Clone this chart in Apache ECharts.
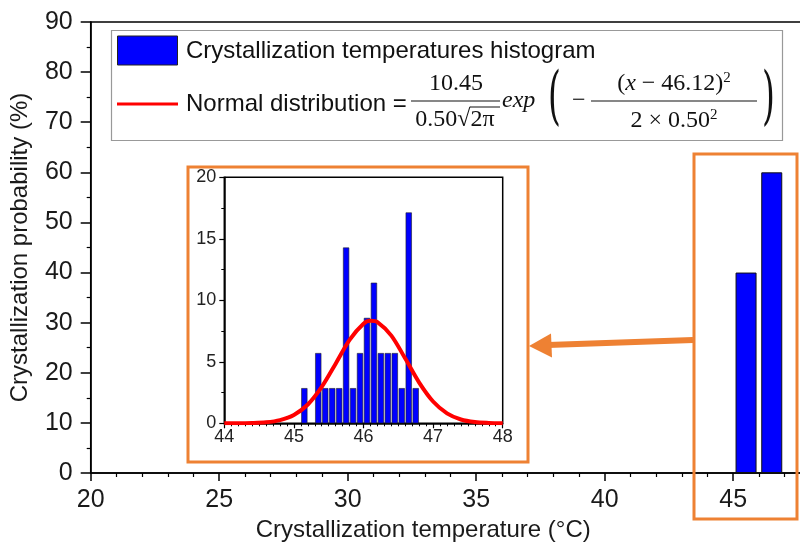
<!DOCTYPE html>
<html>
<head>
<meta charset="utf-8">
<script src="https://cdn.jsdelivr.net/npm/echarts@6/dist/echarts.min.js"></script>
<style>
html,body{margin:0;padding:0;background:#fff;}
#chart{width:800px;height:553px;}
</style>
</head>
<body>
<div id="chart"></div>
<script>
// ---- Data ----
// Main histogram (1 °C bins)
var mainBinCenters = [45.5, 46.5];
var mainProbabilities = [40, 60];
// Inset histogram (0.1 °C bins)
var insetBinCenters = [45.15, 45.35, 45.45, 45.55, 45.65, 45.75, 45.85, 45.95, 46.05, 46.15, 46.25, 46.35, 46.45, 46.55, 46.65, 46.75];
var insetProbabilities = [2.86, 5.71, 2.86, 2.86, 2.86, 14.29, 2.86, 5.71, 8.57, 11.43, 5.71, 5.71, 5.71, 2.86, 17.14, 2.86];
// Normal distribution curve
var curveX = [44.0, 44.2, 44.4, 44.6, 44.8, 45.0, 45.2, 45.4, 45.6, 45.8, 46.0, 46.1, 46.2, 46.4, 46.6, 46.8, 47.0, 47.2, 47.4, 47.6, 47.8, 48.0];
var curveY = [0.0, 0.0, 0.02, 0.08, 0.26, 0.68, 1.53, 2.96, 4.85, 6.79, 8.10, 8.33, 8.23, 7.13, 5.26, 3.31, 1.77, 0.81, 0.31, 0.10, 0.03, 0.0];
// Texts
var xAxisTitle = 'Crystallization temperature (°C)';
var yAxisTitle = 'Crystallization probability (%)';
var legendHistLabel = 'Crystallization temperatures histogram';
var legendNormalLabel = 'Normal distribution =';

var SANS = '"Liberation Sans", Arial, sans-serif';
var SERIF = '"Liberation Serif", "DejaVu Serif", serif';
var ORANGE = '#EE8133';

function pairs(xs, ys){ return xs.map(function(x,i){ return [x, ys[i]]; }); }

var chart = echarts.init(document.getElementById('chart'), null, {renderer:'canvas'});

var option = {
  backgroundColor: '#ffffff',
  animation: false,
  grid: [
    {left: 90.7, top: 22, right: -61.7, bottom: 80, containLabel: false, outerBoundsMode: 'none', show: true, borderColor: '#000', borderWidth: 1.5, backgroundColor: 'transparent'},
    {left: 224.3, top: 177.3, width: 278.4, height: 246, containLabel: false, outerBoundsMode: 'none', show: true, borderColor: '#000', borderWidth: 1.5, backgroundColor: 'transparent'}
  ],
  xAxis: [
    {
      gridIndex: 0, type: 'value', min: 20, max: 50, interval: 5,
      name: xAxisTitle, nameLocation: 'middle', nameGap: 42,
      nameTextStyle: {fontFamily: SANS, fontSize: 24, color: '#1a1a1a', padding: [0, 106, 0, 0]},
      axisLine: {show: true, onZero: false, lineStyle: {color: '#000', width: 1.5}},
      axisTick: {show: true, inside: false, length: 8, lineStyle: {color: '#000', width: 1.5}},
      minorTick: {show: true, splitNumber: 5, length: 4, lineStyle: {color: '#000', width: 1.2}},
      axisLabel: {fontFamily: SANS, fontSize: 25, color: '#1a1a1a', margin: 15},
      splitLine: {show: false}
    },
    {
      gridIndex: 1, type: 'value', min: 44, max: 48, interval: 1,
      axisLine: {show: true, onZero: false, lineStyle: {color: '#000', width: 1.5}},
      axisTick: {show: true, inside: false, length: 5, lineStyle: {color: '#000', width: 1.2}},
      minorTick: {show: true, splitNumber: 10, length: 3, lineStyle: {color: '#000', width: 1}},
      axisLabel: {fontFamily: SANS, fontSize: 18, color: '#222', margin: 5},
      splitLine: {show: false}
    }
  ],
  yAxis: [
    {
      gridIndex: 0, type: 'value', min: 0, max: 90, interval: 10,
      name: yAxisTitle, nameLocation: 'middle', nameGap: 58,
      nameTextStyle: {fontFamily: SANS, fontSize: 24, color: '#1a1a1a'},
      axisLine: {show: true, onZero: false, lineStyle: {color: '#000', width: 1.5}},
      axisTick: {show: true, inside: false, length: 10, lineStyle: {color: '#000', width: 1.5}},
      minorTick: {show: true, splitNumber: 2, length: 4, lineStyle: {color: '#000', width: 1.2}},
      axisLabel: {fontFamily: SANS, fontSize: 25, color: '#1a1a1a', margin: 18},
      splitLine: {show: false}
    },
    {
      gridIndex: 1, type: 'value', min: 0, max: 20, interval: 5,
      axisLine: {show: true, onZero: false, lineStyle: {color: '#000', width: 1.5}},
      axisTick: {show: true, inside: false, length: 5, lineStyle: {color: '#000', width: 1.2}},
      minorTick: {show: true, splitNumber: 2, length: 3, lineStyle: {color: '#000', width: 1}},
      axisLabel: {fontFamily: SANS, fontSize: 18, color: '#222', margin: 8},
      splitLine: {show: false}
    }
  ],
  series: [
    {
      type: 'bar', xAxisIndex: 0, yAxisIndex: 0, barWidth: 21, z: 2,
      data: pairs(mainBinCenters, mainProbabilities),
      itemStyle: {color: '#0000FF', borderColor: '#111', borderWidth: 1}
    },
    {
      type: 'bar', xAxisIndex: 1, yAxisIndex: 1, barWidth: 6.2, z: 6,
      data: pairs(insetBinCenters, insetProbabilities),
      itemStyle: {color: '#0000FF', borderColor: '#222', borderWidth: 0.6}
    },
    {
      type: 'line', xAxisIndex: 1, yAxisIndex: 1, z: 7,
      data: pairs(curveX, curveY), smooth: 0.3, symbol: 'none',
      lineStyle: {color: '#FF0000', width: 4}
    }
  ],
  graphic: [
    // legend box
    {type: 'rect', z: 10, shape: {x: 111.5, y: 30.5, width: 671, height: 110}, style: {fill: '#fff', stroke: '#999', lineWidth: 1.2}},
    {type: 'rect', z: 11, shape: {x: 117.5, y: 36, width: 60, height: 29}, style: {fill: '#0000FF', stroke: '#222', lineWidth: 1}},
    {type: 'text', z: 11, x: 186, y: 51, style: {text: legendHistLabel, font: '24px ' + SANS, fill: '#111', textVerticalAlign: 'middle'}},
    {type: 'line', z: 11, shape: {x1: 117, y1: 104, x2: 178, y2: 104}, style: {stroke: '#FF0000', lineWidth: 3}},
    {type: 'text', z: 11, x: 186, y: 104, style: {text: legendNormalLabel, font: '24px ' + SANS, fill: '#111', textVerticalAlign: 'middle'}},
    // first fraction
    {type: 'text', z: 11, x: 456, y: 84, style: {text: '10.45', font: '24px ' + SERIF, fill: '#111', textAlign: 'center', textVerticalAlign: 'middle'}},
    {type: 'line', z: 11, shape: {x1: 411, y1: 101, x2: 500, y2: 101}, style: {stroke: '#111', lineWidth: 1.2}},
    {type: 'text', z: 11, x: 455, y: 120, style: {text: '0.50\u221A2\u03C0', font: '24px ' + SERIF, fill: '#111', textAlign: 'center', textVerticalAlign: 'middle'}},
    {type: 'line', z: 11, shape: {x1: 470, y1: 107, x2: 500, y2: 107}, style: {stroke: '#111', lineWidth: 1}},
    {type: 'text', z: 11, x: 502, y: 101, style: {text: 'exp', font: 'italic 24px ' + SERIF, fill: '#111', textVerticalAlign: 'middle'}},
    {type: 'text', z: 11, x: 548, y: 101, scaleY: 2.1, scaleX: 1.1, style: {text: '(', font: '30px "DejaVu Serif", serif', fill: '#111', textVerticalAlign: 'middle'}},
    {type: 'text', z: 11, x: 572, y: 101, style: {text: '\u2212', font: '24px ' + SERIF, fill: '#111', textVerticalAlign: 'middle'}},
    // second fraction
    {type: 'text', z: 11, x: 674, y: 84, style: {
      text: '({i|x} \u2212 46.12){s|2}', font: '24px ' + SERIF, fill: '#111', textAlign: 'center', textVerticalAlign: 'middle',
      rich: {i: {fontStyle: 'italic', fontFamily: SERIF, fontSize: 24}, s: {fontSize: 15, fontFamily: SERIF, padding: [0,0,12,0]}}
    }},
    {type: 'line', z: 11, shape: {x1: 591, y1: 101, x2: 757, y2: 101}, style: {stroke: '#111', lineWidth: 1.2}},
    {type: 'text', z: 11, x: 674, y: 121, style: {
      text: '2 \u00D7 0.50{s|2}', font: '24px ' + SERIF, fill: '#111', textAlign: 'center', textVerticalAlign: 'middle',
      rich: {s: {fontSize: 15, fontFamily: SERIF, padding: [0,0,12,0]}}
    }},
    {type: 'text', z: 11, x: 762, y: 101, scaleY: 2.1, scaleX: 1.1, style: {text: ')', font: '30px "DejaVu Serif", serif', fill: '#111', textVerticalAlign: 'middle'}},
    // orange inset frame
    {type: 'rect', z: 4, shape: {x: 188, y: 167, width: 340, height: 295}, style: {fill: 'none', stroke: ORANGE, lineWidth: 3}},
    // orange highlight box around main bars
    {type: 'rect', z: 4, shape: {x: 694, y: 154, width: 103, height: 365}, style: {fill: 'none', stroke: ORANGE, lineWidth: 3}},
    // arrow
    {type: 'line', z: 4, shape: {x1: 693, y1: 340, x2: 548, y2: 345}, style: {stroke: ORANGE, lineWidth: 6}},
    {type: 'polygon', z: 4, shape: {points: [[529, 346], [551, 333.5], [552, 357.5]]}, style: {fill: ORANGE}}
  ]
};
chart.setOption(option);
</script>
</body>
</html>
